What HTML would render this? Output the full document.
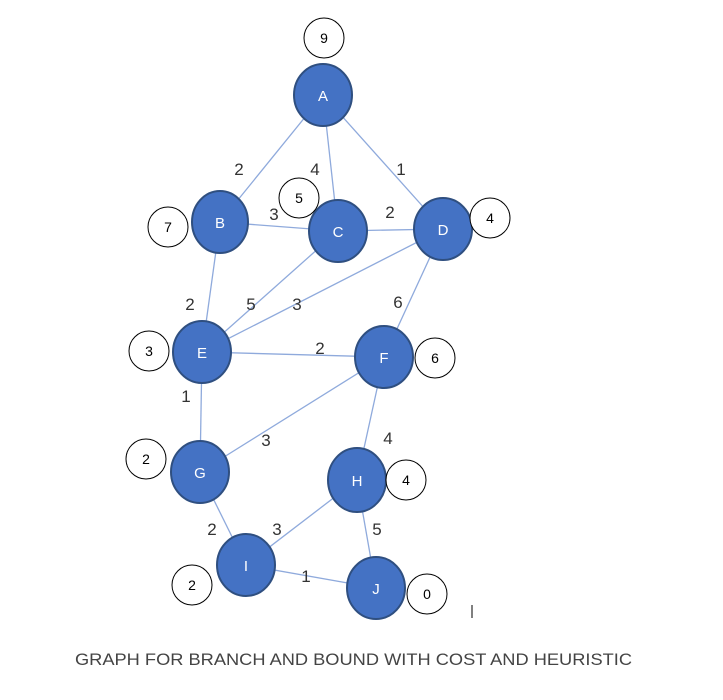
<!DOCTYPE html>
<html><head><meta charset="utf-8"><style>
html,body{margin:0;padding:0;background:#fff;width:723px;height:700px;overflow:hidden}
text{font-family:"Liberation Sans",sans-serif}
</style></head><body>
<svg width="723" height="700" viewBox="0 0 723 700" xmlns="http://www.w3.org/2000/svg">
<g stroke="#8FAADC" stroke-width="1.3" fill="none">
<line x1="323" y1="95" x2="220" y2="222"/>
<line x1="323" y1="95" x2="338" y2="231"/>
<line x1="323" y1="95" x2="443" y2="229"/>
<line x1="220" y1="222" x2="338" y2="231"/>
<line x1="338" y1="231" x2="443" y2="229"/>
<line x1="220" y1="222" x2="202" y2="352"/>
<line x1="338" y1="231" x2="202" y2="352"/>
<line x1="443" y1="229" x2="202" y2="352"/>
<line x1="443" y1="229" x2="384" y2="357"/>
<line x1="202" y1="352" x2="384" y2="357"/>
<line x1="202" y1="352" x2="200" y2="472"/>
<line x1="384" y1="357" x2="200" y2="472"/>
<line x1="384" y1="357" x2="357" y2="480"/>
<line x1="200" y1="472" x2="246" y2="565"/>
<line x1="357" y1="480" x2="246" y2="565"/>
<line x1="357" y1="480" x2="376" y2="588"/>
<line x1="246" y1="565" x2="376" y2="588"/>
</g>
<g fill="#4472C4" stroke="#2F4F80" stroke-width="2">
<ellipse cx="323" cy="95" rx="29" ry="31"/>
<ellipse cx="220" cy="222" rx="28" ry="31"/>
<ellipse cx="338" cy="231" rx="29" ry="31"/>
<ellipse cx="443" cy="229" rx="29" ry="31"/>
<ellipse cx="202" cy="352" rx="29" ry="31"/>
<ellipse cx="384" cy="357" rx="29" ry="31"/>
<ellipse cx="200" cy="472" rx="29" ry="31"/>
<ellipse cx="357" cy="480" rx="29" ry="32"/>
<ellipse cx="246" cy="565" rx="29" ry="31"/>
<ellipse cx="376" cy="588" rx="29" ry="31"/>
</g>
<g fill="#fff" font-size="15" text-anchor="middle">
<text x="323" y="101">A</text><text x="220" y="228">B</text><text x="338" y="237">C</text>
<text x="443" y="235">D</text><text x="202" y="358">E</text><text x="384" y="363">F</text>
<text x="200" y="478">G</text><text x="357" y="486">H</text><text x="246" y="571">I</text>
<text x="376" y="594">J</text>
</g>
<g fill="#fff" stroke="#000" stroke-width="1">
<circle cx="324" cy="38" r="20"/><circle cx="168" cy="227" r="20"/><circle cx="299" cy="198" r="20"/>
<circle cx="490" cy="218" r="20"/><circle cx="149" cy="351" r="20"/><circle cx="435" cy="358" r="20"/>
<circle cx="146" cy="459" r="20"/><circle cx="406" cy="480" r="20"/><circle cx="192" cy="585" r="20"/>
<circle cx="427" cy="594" r="20"/>
</g>
<g fill="#000" font-size="14" text-anchor="middle">
<text x="324" y="43">9</text><text x="168" y="232">7</text><text x="299" y="203">5</text>
<text x="490" y="223">4</text><text x="149" y="356">3</text><text x="435" y="363">6</text>
<text x="146" y="464">2</text><text x="406" y="485">4</text><text x="192" y="590">2</text>
<text x="427" y="599">0</text>
</g>
<g fill="#333" font-size="17" text-anchor="middle">
<text x="239" y="175">2</text><text x="315" y="175">4</text><text x="401" y="175">1</text>
<text x="274" y="220">3</text><text x="390" y="218">2</text>
<text x="190" y="310">2</text><text x="251" y="310">5</text><text x="297" y="310">3</text>
<text x="398" y="308">6</text><text x="320" y="354">2</text>
<text x="186" y="402">1</text><text x="266" y="446">3</text><text x="388" y="444">4</text>
<text x="212" y="535">2</text><text x="277" y="535">3</text><text x="377" y="535">5</text>
<text x="306" y="582">1</text>
</g>
<line x1="472" y1="605" x2="472" y2="618" stroke="#000" stroke-width="1"/>
<text x="75" y="665" font-size="17" fill="#444" textLength="557" lengthAdjust="spacingAndGlyphs">GRAPH FOR BRANCH AND BOUND WITH COST AND HEURISTIC</text>
</svg>
</body></html>
